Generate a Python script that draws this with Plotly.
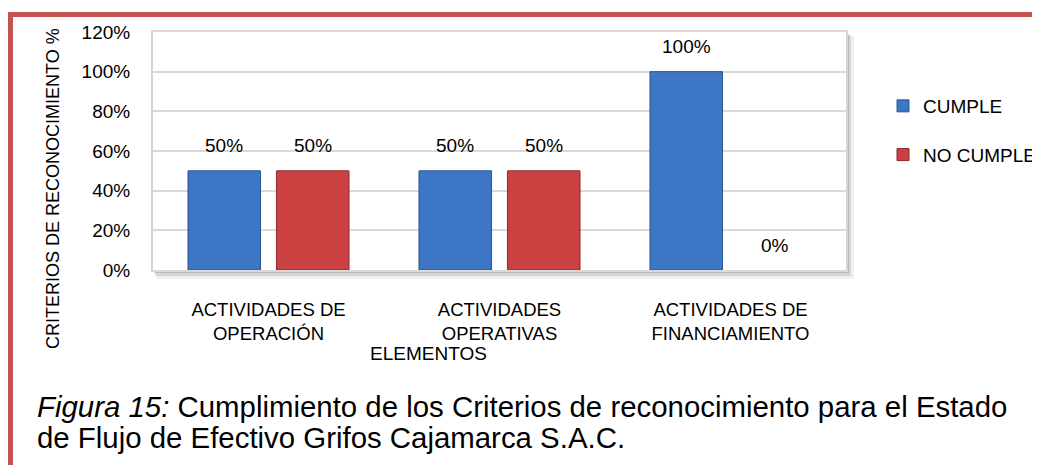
import plotly.graph_objects as go

# ---- data ----
categories = ["ACTIVIDADES DE<br>OPERACIÓN", "ACTIVIDADES<br>OPERATIVAS", "ACTIVIDADES DE<br>FINANCIAMIENTO"]
cumple = [0.50, 0.50, 1.00]
no_cumple = [0.50, 0.50, 0.00]
series_names = ["CUMPLE", "NO CUMPLE"]
y_title = "CRITERIOS DE RECONOCIMIENTO %"
x_title = "ELEMENTOS"
caption_1 = "<i>Figura 15:</i> Cumplimiento de los Criterios de reconocimiento para el Estado"
caption_2 = "de Flujo de Efectivo Grifos Cajamarca S.A.C."

# ---- layout constants (page offset of 8px from default body margin) ----
OFF = 8
W, H = 1040 - OFF, 465 - OFF
PL, PR, PT, PB = 153, 846, 32, 270          # plot area in page pixels
ML, MR, MT, MB = PL - OFF, W - (PR - OFF), PT - OFF, H - (PB - OFF)
PW, PH = W - ML - MR, H - MT - MB
FONT = "Liberation Sans, Arial, sans-serif"
BARGAP, GROUPGAP = 0.234, 0.18


def px(x):
    return (x - OFF - ML) / PW


def py(y):
    return (H - MB - (y - OFF)) / PH


fig = go.Figure()
fig.add_trace(go.Bar(x=categories, y=cumple, name=series_names[0], legendgroup="a",
                     marker=dict(color="#3C76C4",
                                 line=dict(color="#2A568F", width=[1 if v > 0 else 0 for v in cumple]))))
fig.add_trace(go.Bar(x=categories, y=no_cumple, name=series_names[1], legendgroup="b",
                     marker=dict(color="#CB4040",
                                 line=dict(color="#8E2A2A", width=[1 if v > 0 else 0 for v in no_cumple]))))

annotations = []
offset = PW / 3 * (1 - BARGAP) / 4
for vals, sh in ((cumple, -offset), (no_cumple, offset)):
    for c, v in zip(categories, vals):
        annotations.append(dict(x=c, y=v, xref="x", yref="y", text=f"{v:.0%}", showarrow=False,
                                xshift=sh, yshift=25, yanchor="middle",
                                font=dict(family=FONT, size=19, color="#000")))

annotations += [
    dict(x=px(53), y=py(189), xref="paper", yref="paper", text=y_title, textangle=-90,
         showarrow=False, xanchor="center", yanchor="middle",
         font=dict(family=FONT, size=18, color="#000")),
    dict(x=px(428), y=py(353), xref="paper", yref="paper", text=x_title,
         showarrow=False, xanchor="center", yanchor="middle",
         font=dict(family=FONT, size=19, color="#000")),
    dict(x=px(35), y=py(406), xref="paper", yref="paper", text=caption_1,
         showarrow=False, xanchor="left", yanchor="middle",
         font=dict(family=FONT, size=29.4, color="#000")),
    dict(x=px(35), y=py(437), xref="paper", yref="paper", text=caption_2,
         showarrow=False, xanchor="left", yanchor="middle",
         font=dict(family=FONT, size=29.4, color="#000")),
]

shapes = [
    # plot area shadow
    dict(type="rect", xref="paper", yref="paper", x0=px(PL + 3), x1=px(PR + 8),
         y0=py(PB + 9), y1=py(PT + 4), fillcolor="rgba(0,0,0,0.06)", line_width=0, layer="below"),
    dict(type="rect", xref="paper", yref="paper", x0=px(PL + 2), x1=px(PR + 5),
         y0=py(PB + 6), y1=py(PT + 3), fillcolor="rgba(0,0,0,0.10)", line_width=0, layer="below"),
    dict(type="rect", xref="paper", yref="paper", x0=px(PL + 1), x1=px(PR + 3),
         y0=py(PB + 3), y1=py(PT + 2), fillcolor="rgba(0,0,0,0.14)", line_width=0, layer="below"),
    # plot area white
    dict(type="rect", xref="paper", yref="paper", x0=0, x1=1, y0=0, y1=1,
         fillcolor="white", line_width=0, layer="below"),
    # red frame
    dict(type="rect", xref="paper", yref="paper", x0=px(OFF), x1=px(1045), y0=py(17), y1=py(12),
         fillcolor="#C3534F", line_width=0),
    dict(type="rect", xref="paper", yref="paper", x0=px(OFF), x1=px(OFF + 5), y0=py(470), y1=py(12),
         fillcolor="#C3534F", line_width=0),
]

fig.update_layout(
    width=W, height=H,
    margin=dict(l=ML, r=MR, t=MT, b=MB, pad=0, autoexpand=False),
    paper_bgcolor="white", plot_bgcolor="rgba(0,0,0,0)",
    barmode="group", bargap=BARGAP, bargroupgap=GROUPGAP,
    font=dict(family=FONT, size=19, color="#000"),
    showlegend=True,
    legend=dict(x=px(883), y=py(87), xanchor="left", yanchor="top", tracegroupgap=21,
                font=dict(family=FONT, size=19, color="#000"), bgcolor="rgba(0,0,0,0)"),
    annotations=annotations,
    shapes=shapes,
)
fig.update_xaxes(showgrid=False, ticks="", showline=True, linecolor="#D9D9D9", linewidth=2,
                 mirror=True, ticklabelstandoff=22, tickfont=dict(family=FONT, size=18.5))
fig.update_yaxes(range=[0, 1.2], dtick=0.2, tickformat=".0%", showgrid=True, gridcolor="#D9D9D9",
                 gridwidth=2, zeroline=False, ticks="", showline=True, linecolor="#D4D4D4", linewidth=2,
                 mirror=True, ticklabelstandoff=17, tickfont=dict(family=FONT, size=19))

fig.write_html("out.html")
